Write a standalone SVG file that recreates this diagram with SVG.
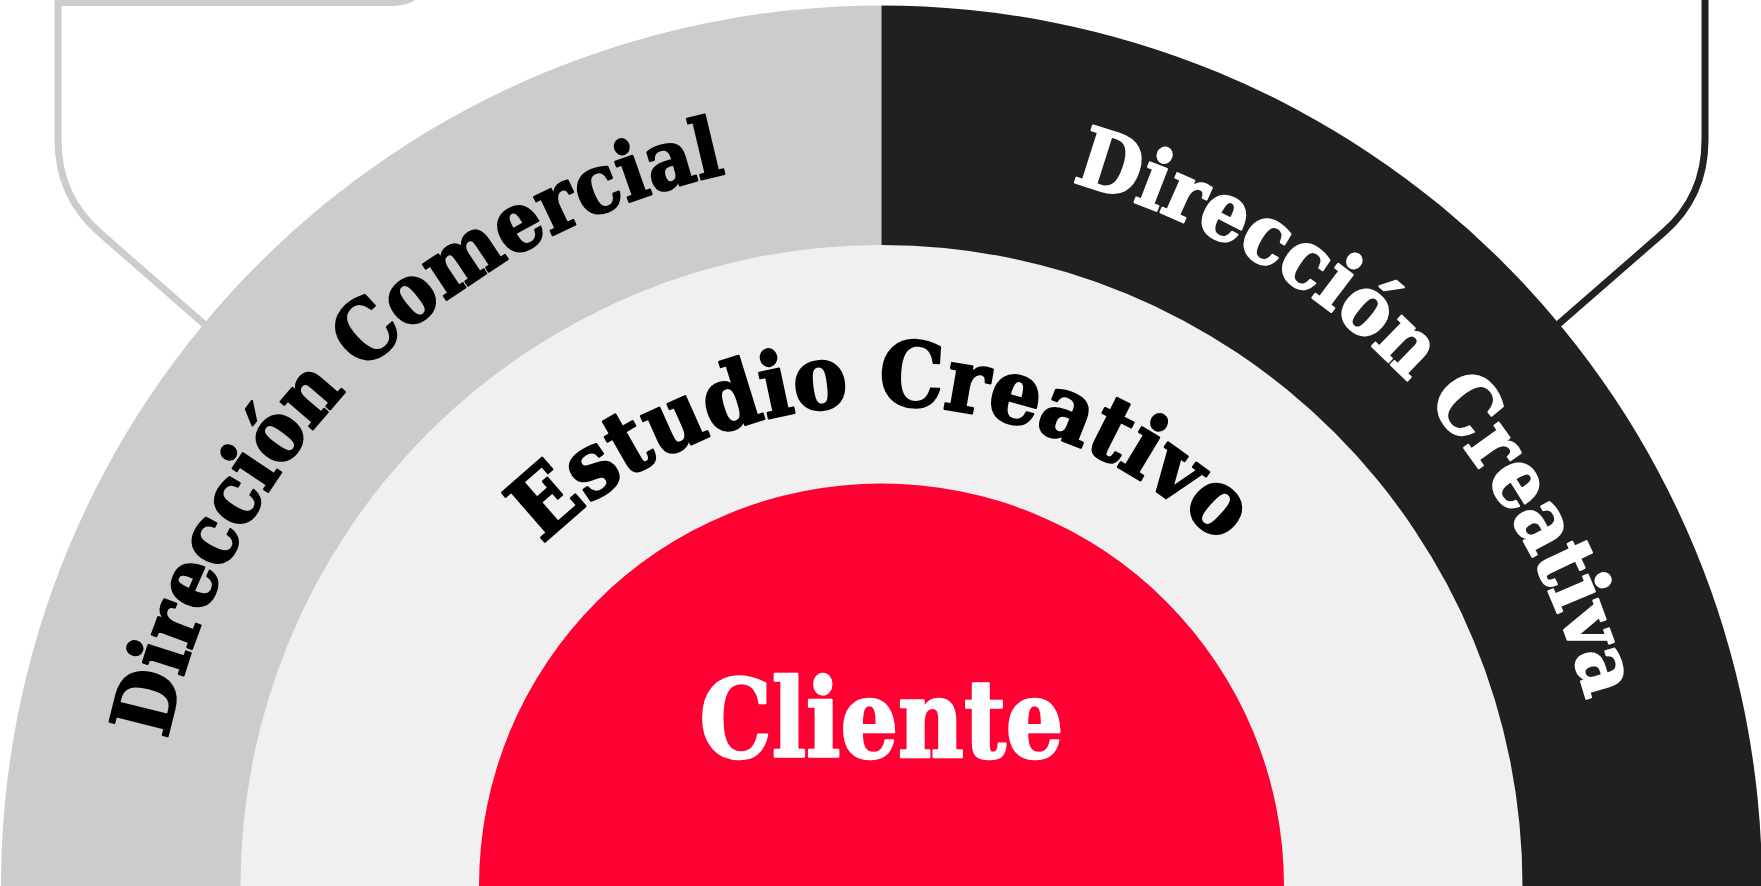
<svg xmlns="http://www.w3.org/2000/svg" width="1761" height="886" viewBox="0 0 1761 886">
  <style>
    .lbl { font-family: "DejaVu Serif Condensed", "DejaVu Serif", serif; font-stretch: condensed; font-weight: bold; stroke-linejoin: round; }
    .dark { fill: #000000; stroke: #000000; }
    .light { fill: #ffffff; stroke: #ffffff; }
    .conn { fill: none; stroke-width: 7; stroke-linejoin: miter; }
  </style>
  <defs>
    <path id="arcOuter" d="M 152.5,886 A 729 729 0 0 1 1610.5,886"/>
    <path id="arcMid" d="M 400.5,886 A 481 481 0 0 1 1362.5,886"/>
  </defs>
  <rect width="1761" height="886" fill="#ffffff"/>
  <g id="connectors">
    <path class="conn" stroke="#cccccc" d="M 433,-37 A 40 40 0 0 1 393,2.5 L 58,2.5 L 58,140 Q 58,196.5 100,233 L 300,408"/>
    <path class="conn" stroke="#222222" d="M 1705,-10 L 1705,140 Q 1705,197 1663,233 L 1460,410"/>
  </g>
  <g id="direccion-comercial">
    <path d="M 1,886 A 880.5 880.5 0 0 1 881.5,5.5 L 881.5,886 Z" fill="#cccccc"/>
    <text class="lbl dark" font-size="82" stroke-width="2.2"><textPath href="#arcOuter" startOffset="24.8%" text-anchor="middle" textLength="841" lengthAdjust="spacingAndGlyphs">Dirección Comercial</textPath></text>
  </g>
  <g id="direccion-creativa">
    <path d="M 881.5,5.5 A 880.5 880.5 0 0 1 1762,886 L 881.5,886 Z" fill="#202020"/>
    <text class="lbl light" font-size="82" stroke-width="2.2"><textPath href="#arcOuter" startOffset="75.1%" text-anchor="middle" textLength="765" lengthAdjust="spacingAndGlyphs">Dirección Creativa</textPath></text>
  </g>
  <g id="estudio-creativo">
    <circle cx="881.5" cy="886" r="641" fill="#f0f0f0"/>
    <text class="lbl dark" font-size="89" stroke-width="2.5"><textPath href="#arcMid" startOffset="50%" text-anchor="middle" textLength="752" lengthAdjust="spacingAndGlyphs">Estudio Creativo</textPath></text>
  </g>
  <g id="cliente">
    <circle cx="881.5" cy="886" r="402.5" fill="#ff0033"/>
    <text class="lbl light" x="881.5" y="757" font-size="108" stroke-width="2.5" text-anchor="middle" textLength="364" lengthAdjust="spacingAndGlyphs">Cliente</text>
  </g>
</svg>
